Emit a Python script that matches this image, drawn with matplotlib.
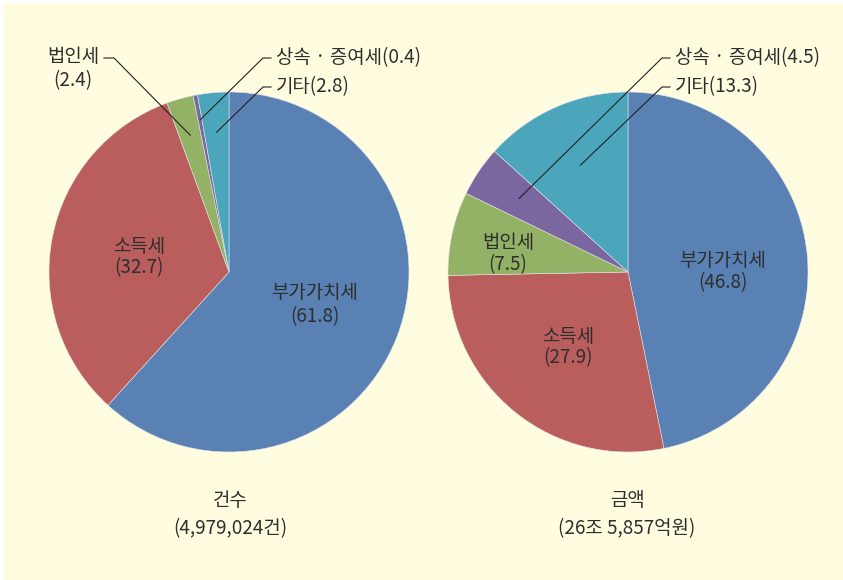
import numpy as np
import matplotlib
matplotlib.use("Agg")
import matplotlib.pyplot as plt
from matplotlib.patches import Rectangle

plt.rcParams['font.family'] = ['Noto Sans CJK KR', 'DejaVu Sans']

categories = ['부가가치세', '소득세', '법인세', '상속 · 증여세', '기타']
count_share = [61.8, 32.7, 2.4, 0.4, 2.8]
amount_share = [46.8, 27.9, 7.5, 4.5, 13.3]
count_title = '건수'
count_total = '(4,979,024건)'
amount_title = '금액'
amount_total = '(26조 5,857억원)'

colors = ['#5981B4', '#B95D5D', '#93B266', '#7A67A0', '#4BA6BC']
bg = '#FFFCE0'
txt = '#2E2E2E'

W, H = 843, 580
fig = plt.figure(figsize=(W / 100, H / 100), dpi=100)
fig.patch.set_facecolor('white')
ax = fig.add_axes([0, 0, 1, 1])
ax.add_patch(Rectangle((4, 0), W - 4, H - 3, facecolor=bg, edgecolor='none', zorder=0))

def py(y):
    return H - y

R = 180
centers = [(229, py(272)), (628, py(272))]
FS = 13.6

def draw_pie(vals, center):
    ax.pie(vals, colors=colors, startangle=90, counterclock=False,
           center=center, radius=R, frame=True,
           wedgeprops=dict(edgecolor='#E0E4E8', linewidth=0.4))

def mid_point(vals, idx, frac, center):
    tot = sum(vals)
    cum = sum(vals[:idx]) + vals[idx] / 2
    ang = np.deg2rad(90 - 360 * cum / tot)
    return center[0] + frac * R * np.cos(ang), center[1] + frac * R * np.sin(ang)

def leader(vals, idx, frac, center, elbow, hend, label, tx, ha='left'):
    x0, y0 = mid_point(vals, idx, frac, center)
    ex, ey = elbow
    ax.plot([x0, ex, hend], [y0, py(ey), py(ey)], color='#222222', lw=0.8, zorder=5)
    if label:
        ax.text(tx, py(ey), label, ha=ha, va='center', fontsize=FS, color=txt, zorder=6)

def label(x, y, s):
    ax.text(x, py(y), s, ha='center', va='center', fontsize=FS, color=txt, zorder=6)

# left pie
draw_pie(count_share, centers[0])
label(315, 293, categories[0])
label(315, 317, f'({count_share[0]})')
label(139, 247, categories[1])
label(139, 268, f'({count_share[1]})')

leader(count_share, 2, 0.79, centers[0], (114, 58), 104, '', 0)
label(73, 57, categories[2])
label(73, 81, f'({count_share[2]})')
leader(count_share, 3, 0.86, centers[0], (263, 58), 271,
       f'{categories[3]}({count_share[3]})', 276)
leader(count_share, 4, 0.78, centers[0], (263, 87), 271,
       f'{categories[4]}({count_share[4]})', 276)

# right pie
draw_pie(amount_share, centers[1])
label(723, 260, categories[0])
label(723, 283, f'({amount_share[0]})')
label(568, 337, categories[1])
label(568, 358, f'({amount_share[1]})')
label(508, 242, categories[2])
label(508, 265, f'({amount_share[2]})')
leader(amount_share, 3, 0.73, centers[1], (662, 58), 670,
       f'{categories[3]}({amount_share[3]})', 675)
leader(amount_share, 4, 0.65, centers[1], (662, 87), 670,
       f'{categories[4]}({amount_share[4]})', 675)

# bottom captions
label(230, 501, count_title)
label(230, 529, count_total)
label(627, 501, amount_title)
label(627, 529, amount_total)

ax.set_xlim(0, W)
ax.set_ylim(0, H)
ax.set_aspect('equal', adjustable='box')
ax.axis('off')
fig.savefig('out.png', dpi=100, facecolor=fig.get_facecolor())
